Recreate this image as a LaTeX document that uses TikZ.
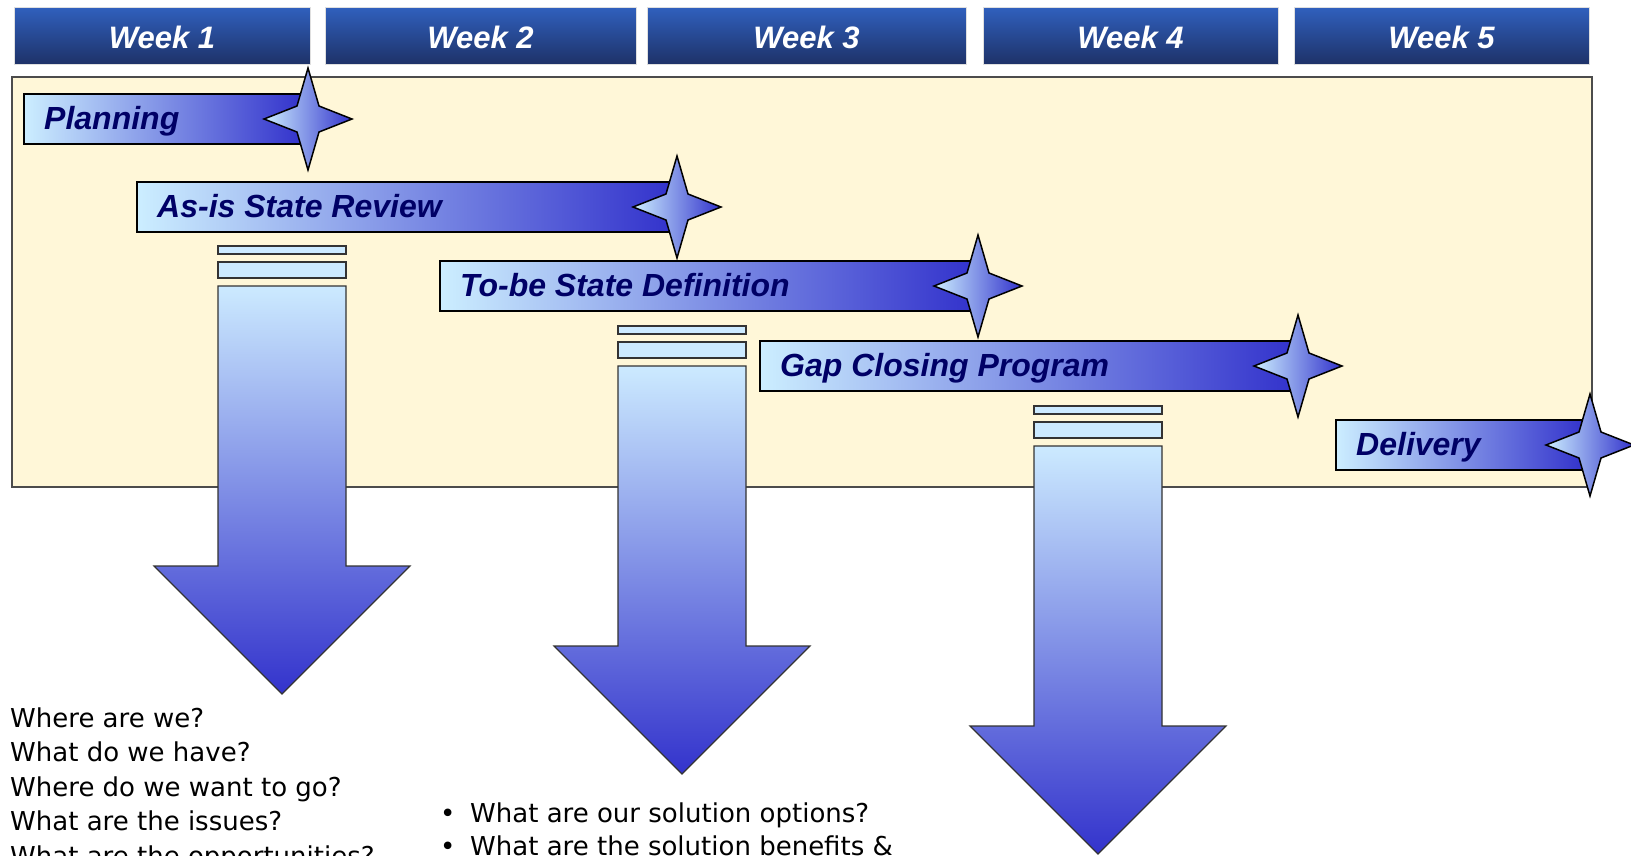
\documentclass[tikz,border=0pt]{standalone}
\usepackage{fontspec}
\setmainfont{Liberation Sans}
\newfontfamily\qfont{DejaVu Sans}
\usetikzlibrary{calc}

\definecolor{hdtop}{HTML}{3060BE}
\definecolor{hdbot}{HTML}{1E3268}
\definecolor{cream}{HTML}{FFF7D8}
\definecolor{barlight}{HTML}{CCEEFF}
\definecolor{bardark}{HTML}{3333CC}
\definecolor{stripefill}{HTML}{CCEAFF}
\definecolor{navy}{HTML}{000066}

\tikzset{
  weekbox/.style={draw=gray!25, line width=1pt, top color=hdtop, bottom color=hdbot},
  weektext/.style={text=white, font=\fontsize{31}{36}\selectfont\bfseries\itshape, anchor=base, inner sep=0pt},
  phasebar/.style={draw=black, line width=1.2pt, left color=barlight, right color=bardark},
  phasetext/.style={text=navy, font=\fontsize{32}{38}\selectfont\bfseries\itshape, anchor=base west, inner sep=0pt},
  starshape/.style={draw=black, line width=1.5pt, line join=miter, left color=barlight, right color=bardark},
  stripe/.style={draw=black!80, line width=1.2pt, fill=stripefill},
  downarrow/.style={draw=black!80, line width=1.2pt, top color=stripefill, bottom color=bardark},
  qtext/.style={font=\qfont\fontsize{26}{30}\selectfont, anchor=base west, inner sep=0pt}
}

\begin{document}
\begin{tikzpicture}[x=1pt,y=-1pt]
    \useasboundingbox (0,0) rectangle (1631,855);
    % week headers
    \foreach \n/\xa/\xb in {1/14/310, 2/325/636, 3/647/966, 4/983/1278, 5/1294/1589}
    {
        \draw[weekbox] (\xa,7) rectangle (\xb,64);
        \node[weektext] (week\n) at ({(\xa+\xb)/2},48) {Week \n};
    }
    \draw[line width=2pt, draw=black!70, fill=cream] (12,77) rectangle (1592,487);
    % down arrows
    \foreach \nm/\cx/\dy in {a/282/0, b/682/80, c/1098/160}
    {
        \draw[stripe] (\cx-64,246+\dy) rectangle (\cx+64,254+\dy);
        \draw[stripe] (\cx-64,262+\dy) rectangle (\cx+64,278+\dy);
        \draw[downarrow] (\cx-64,286+\dy) -- (\cx+64,286+\dy) -- (\cx+64,566+\dy)
            -- (\cx+128,566+\dy) -- (\cx,694+\dy) -- (\cx-128,566+\dy)
            -- (\cx-64,566+\dy) -- cycle;
    }
    % phases
    \foreach \nm/\xa/\xc/\yc/\txt in {plan/24/308/119/Planning,
            asis/137/677/207/As-is State Review,
            tobe/440/978/286/To-be State Definition,
            gap/760/1298/366/Gap Closing Program,
            dlv/1336/1590/445/Delivery}
    {
        \draw[phasebar] (\xa,\yc-25) rectangle (\xc-6,\yc+25);
        \node[phasetext] (\nm) at (\xa+20,\yc+10) {\txt};
        \draw[starshape] (\xc,\yc-51) -- ++(11,38) -- ++(33,13) -- ++(-33,13)
            -- ++(-11,38) -- ++(-11,-38) -- ++(-33,-13) -- ++(33,-13) -- cycle;
    }
    % questions
    \foreach \i/\q in {1/Where are we?, 2/What do we have?, 3/Where do we want to go?,
            4/What are the issues?, 5/What are the opportunities?}
        \node[qtext] (q\i) at (10,{727+34.5*(\i-1)}) {\q};
    \node[qtext] (b1) at (440,822) {•};
    \node[qtext] (opt1) at (470,822) {What are our solution options?};
    \node[qtext] (b2) at (440,855) {•};
    \node[qtext] (opt2) at (470,855) {What are the solution benefits \&};
\end{tikzpicture}
\end{document}
